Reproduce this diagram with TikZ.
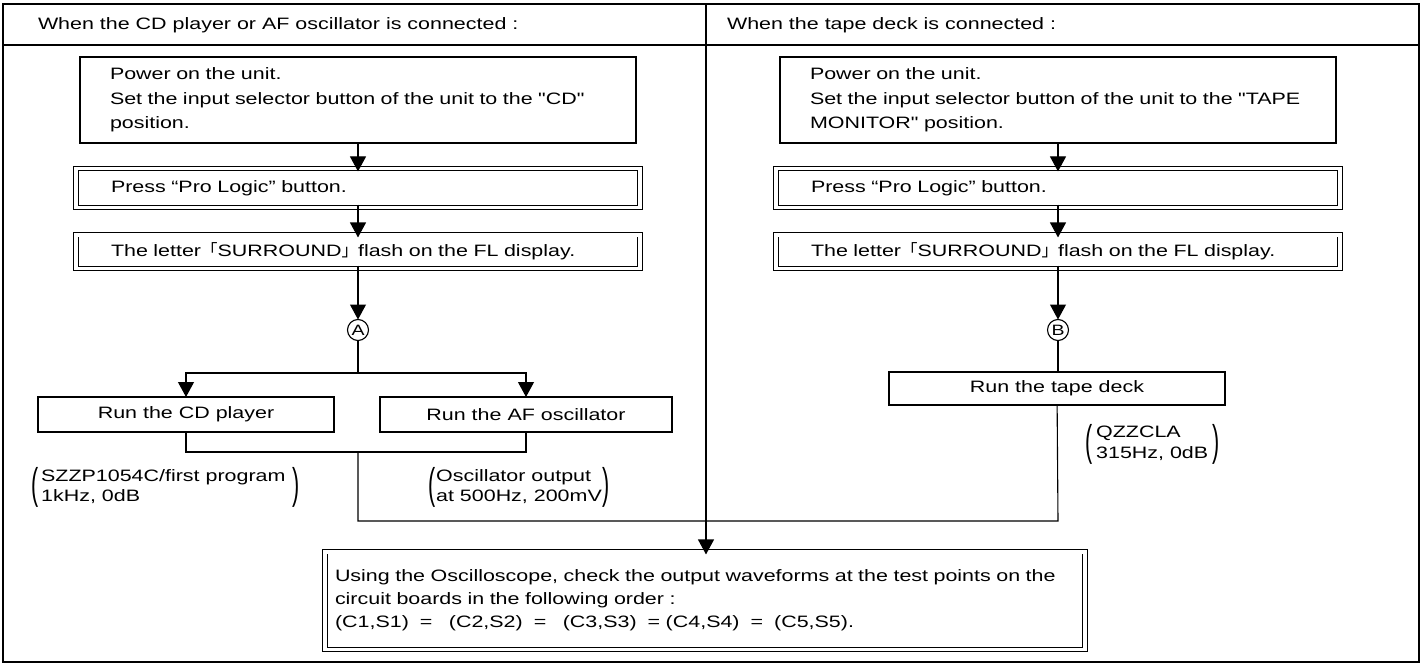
\documentclass[tikz,border=0pt]{standalone}
\usepackage{fontspec}
\usepackage{graphicx}
\setmainfont{Liberation Sans}[FakeStretch=1.3, Ligatures=TeXOff]
\newfontfamily\cjk{Noto Sans CJK JP}
\usetikzlibrary{arrows.meta}
\newcommand{\lpar}{\vcenter{\hbox{\scalebox{1}[2.6]{(}}}}
\newcommand{\rpar}{\vcenter{\hbox{\scalebox{1}[2.6]{)}}}}
\begin{document}
\begin{tikzpicture}[x=1pt,y=-1pt,
  line width=1.1pt,
  every node/.style={font=\fontsize{16.5}{23}\selectfont, inner sep=0pt, outer sep=0pt},
  tip/.style={-{Triangle[width=16pt,length=15pt]}},
  boxA/.style={draw, rectangle, align=left, line width=1.1pt},
  dbl/.style={draw, double, double distance=3.5pt, line width=0.9pt, rectangle, align=left},
  runbox/.style={draw, rectangle, align=center, line width=1.1pt},
  circ/.style={draw, circle, minimum size=21pt, font=\fontsize{15}{15}\selectfont, line width=1.1pt},
  note/.style={anchor=west, font=\fontsize{16.5}{20}\selectfont},
  hdr/.style={anchor=west},
]
\useasboundingbox (0,0) rectangle (1422,666);

% frame
\node[draw, line width=1.5pt, minimum width=1416pt, minimum height=658pt, anchor=north west] (frame) at (3,4) {};
\coordinate (hl) at (3,45);
\coordinate (hr) at (1419,45);
\draw (hl) -- (hr);
\coordinate (dtop) at (706,4);
\coordinate (jM) at (706,521);
\draw (dtop) -- (jM);

% headers
\node[hdr] (h1) at (38,25) {When the CD player or AF oscillator is connected :};
\node[hdr] (h2) at (727,25) {When the tape deck is connected :};

% left column
\node[boxA, text width=496pt, inner xsep=30pt, minimum height=86pt, font=\fontsize{16.5}{24.5}\selectfont] (p1) at (358,100)
  {Power on the unit.\\Set the input selector button of the unit to the "CD"\\position.};
\node[dbl, text width=494pt, inner xsep=35pt, minimum height=38.5pt] (pr1) at (358,188) {Press “Pro Logic” button.};
\node[dbl, text width=494pt, inner xsep=35pt, minimum height=33.5pt] (s1) at (358,251.5)
  {The letter{\cjk 「}SURROUND{\cjk 」}flash on the FL display.};
\node[circ] (A) at (358,330) {A};
\coordinate (bA) at (358,373);
\node[runbox, minimum width=296pt, minimum height=35pt] (cd) at (186,414.5) {Run the CD player};
\node[runbox, minimum width=292pt, minimum height=35pt] (af) at (526,414.5) {Run the AF oscillator};
\coordinate (jA) at (526,452);
\coordinate (jC) at (358,452);
\coordinate (jD) at (358,521);

\node[note] (n1) at (31,487) {$\lpar\begin{tabular}{@{\hspace{3pt}}l@{\hspace{7pt}}}SZZP1054C/first program\\1kHz, 0dB\end{tabular}\rpar$};
\node[note] (n2) at (428,487) {$\lpar\begin{tabular}{@{\hspace{1pt}}l@{\hspace{1pt}}}Oscillator output\\at 500Hz, 200mV\end{tabular}\rpar$};

% right column
\node[boxA, text width=496pt, inner xsep=30pt, minimum height=86pt, font=\fontsize{16.5}{24.5}\selectfont] (p2) at (1058,100)
  {Power on the unit.\\Set the input selector button of the unit to the "TAPE\\MONITOR" position.};
\node[dbl, text width=494pt, inner xsep=35pt, minimum height=38.5pt] (pr2) at (1058,188) {Press “Pro Logic” button.};
\node[dbl, text width=494pt, inner xsep=35pt, minimum height=33.5pt] (s2) at (1058,251.5)
  {The letter{\cjk 「}SURROUND{\cjk 」}flash on the FL display.};
\node[circ] (B) at (1058,330) {B};
\node[runbox, minimum width=336pt, minimum height=33pt] (tape) at (1057,388.5) {Run the tape deck};
\coordinate (jT) at (1058,521);
\node[note, font=\fontsize{16.5}{21}\selectfont] (n3) at (1085,444) {$\lpar\begin{tabular}{@{\hspace{4pt}}l@{\hspace{4pt}}}QZZCLA\\315Hz, 0dB\end{tabular}\rpar$};

% final box
\node[dbl, text width=740pt, inner xsep=10pt, minimum height=97.5pt] (fin) at (705,600.5)
  {Using the Oscilloscope, check the output waveforms at the test points on the\\circuit boards in the following order :\\(C1,S1)\ \ =\ \ \ (C2,S2)\ \ =\ \ \ (C3,S3)\ \ = (C4,S4)\ \ =\ \ (C5,S5).};

% connectors left
\draw[tip] (p1) -- ([yshift=-2.7pt]pr1.north);
\draw[tip] ([yshift=2.7pt]pr1.south) -- ([yshift=-2.7pt]s1.north);
\draw[tip] ([yshift=2.7pt]s1.south) -- (A.north);
\draw (A) -- (bA);
\draw[tip] (bA) -| (cd.north);
\draw[tip] (bA) -| (af.north);
\draw (cd) |- (jA) -- (af);
\draw (jC) -- (jD) -- (jT) -- (tape);

% connectors right
\draw[tip] (p2) -- ([yshift=-2.7pt]pr2.north);
\draw[tip] ([yshift=2.7pt]pr2.south) -- ([yshift=-2.7pt]s2.north);
\draw[tip] ([yshift=2.7pt]s2.south) -- (B.north);
\draw (B) -- (B |- tape.north);

% to final
\draw[tip] (jM) -- ([yshift=-2.7pt]jM |- fin.north);
\end{tikzpicture}
\end{document}
